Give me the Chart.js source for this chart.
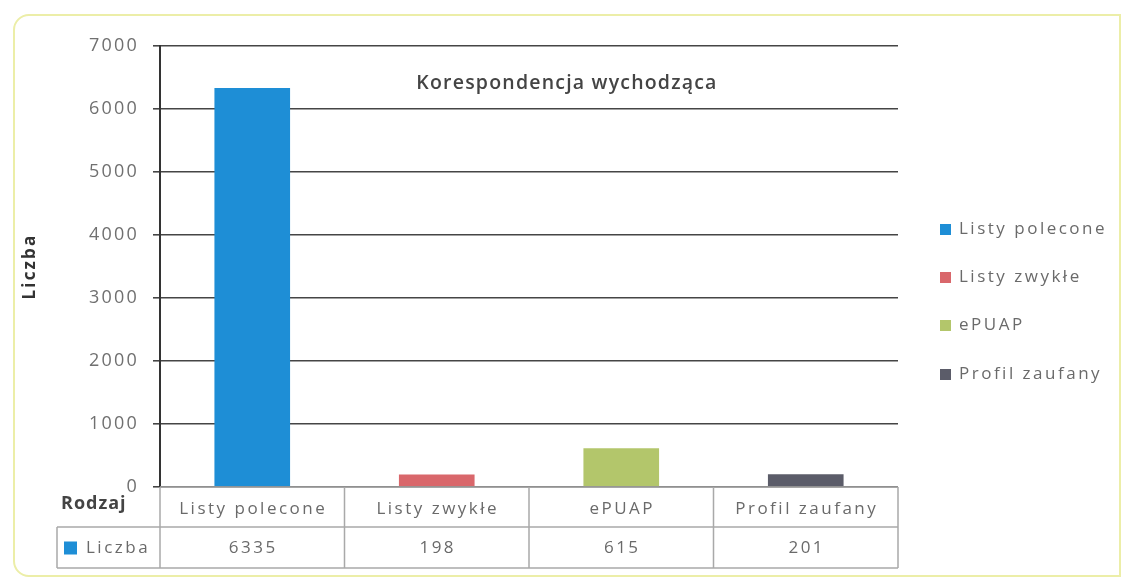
<!DOCTYPE html>
<html>
<head>
<meta charset="utf-8">
<script src="https://cdn.jsdelivr.net/npm/chart.js@4.4.1/dist/chart.umd.min.js"></script>
<style>
    html, body { margin: 0; padding: 0; background: #fff; }
    #frame {
        position: absolute; left: 13px; top: 14px; width: 1104px; height: 559px;
        border: 2px solid #eceea8; border-radius: 16px 0 0 16px;
    }
    #wrap { position: absolute; left: 0; top: 0; width: 1124px; height: 578px; }
</style>
</head>
<body>
<div id="frame"></div>
<div id="wrap"><canvas id="chart" width="1124" height="578"></canvas></div>
<script>
const kategorie = ['Listy polecone', 'Listy zwykłe', 'ePUAP', 'Profil zaufany'];
const liczba = [6335, 198, 615, 201];
const kolory = ['#1e8ed6', '#d9676b', '#b3c66b', '#5b5c69'];
const tytul = 'Korespondencja wychodząca';

const FONT = '"Open Sans", sans-serif';

// rozstrzelone litery jak na skanie
const odstepPlugin = {
    id: 'odstep',
    beforeDraw(chart) { chart.ctx.letterSpacing = '2.2px'; }
};

// tabela danych pod osia i legenda po prawej
const tabelaPlugin = {
    id: 'tabela',
    afterDraw(chart) {
        const c = chart.ctx;
        const x = chart.scales.x;
        const top = chart.chartArea.bottom;
        const row1 = top + 40, row2 = row1 + 41;
        const n = kategorie.length;
        const w = (x.right - x.left) / n;

        c.save();
        c.strokeStyle = '#a9a9a9';
        c.lineWidth = 1.5;
        c.beginPath();
        c.moveTo(x.left, top); c.lineTo(x.right, top);
        c.moveTo(57, row1); c.lineTo(x.right, row1);
        c.moveTo(57, row2); c.lineTo(x.right, row2);
        c.moveTo(57, row1); c.lineTo(57, row2);
        for (let i = 0; i <= n; i++) {
            const px = x.left + i * w;
            c.moveTo(px, top); c.lineTo(px, row2);
        }
        c.stroke();

        c.textAlign = 'center';
        c.textBaseline = 'middle';
        c.fillStyle = '#6a6a6a';
        c.font = '17px ' + FONT;
        c.letterSpacing = '2.5px';
        kategorie.forEach((k, i) => {
            const px = x.getPixelForValue(i) + 1;
            c.fillText(k, px, (top + row1) / 2 + 2);
            c.fillText(String(liczba[i]), px, (row1 + row2) / 2 + 1);
        });

        c.textAlign = 'left';
        c.fillStyle = '#444';
        c.font = 'bold 18px ' + FONT;
        c.letterSpacing = '1px';
        c.fillText('Rodzaj', 61, top + 17);

        c.fillStyle = kolory[0];
        c.fillRect(64, (row1 + row2) / 2 - 6, 13, 13);
        c.fillStyle = '#6a6a6a';
        c.font = '17px ' + FONT;
        c.letterSpacing = '2.5px';
        c.fillText('Liczba', 86, (row1 + row2) / 2 + 1);

        // legenda
        const ly = [229, 277, 325, 374];
        kategorie.forEach((k, i) => {
            c.fillStyle = kolory[i];
            c.fillRect(940, ly[i] - 5, 11, 11);
            c.fillStyle = '#6a6a6a';
            c.fillText(k, 959, ly[i]);
        });

        // tytul wykresu
        c.textAlign = 'center';
        c.fillStyle = '#444';
        c.font = '600 19.5px ' + FONT;
        c.letterSpacing = '1.2px';
        c.fillText(tytul, 567, 83);
        c.restore();
    }
};

new Chart(document.getElementById('chart'), {
    type: 'bar',
    data: {
        labels: kategorie,
        datasets: [{
            label: 'Liczba',
            data: liczba,
            backgroundColor: kolory,
            borderWidth: 0,
            categoryPercentage: 1,
            barPercentage: 0.41
        }]
    },
    options: {
        responsive: false,
        animation: false,
        layout: { padding: { top: 46, right: 226, bottom: 0, left: 0 } },
        plugins: {
            legend: { display: false },
            tooltip: { enabled: false }
        },
        scales: {
            x: {
                ticks: { display: false },
                grid: { display: false },
                border: { display: false },
                afterFit: s => { s.height = 91; }
            },
            y: {
                min: 0,
                max: 7000,
                ticks: {
                    stepSize: 1000,
                    color: '#707070',
                    padding: 14,
                    font: { family: FONT, size: 18 },
                    callback: v => String(v)
                },
                grid: { color: '#454545', lineWidth: 1.6, tickLength: 7 },
                border: { color: '#333', width: 2 },
                title: {
                    display: true,
                    text: 'Liczba',
                    color: '#333',
                    padding: { top: 20, bottom: 0 },
                    font: { family: FONT, size: 17, weight: 'bold' }
                },
                afterFit: s => { s.width = 160; }
            }
        }
    },
    plugins: [odstepPlugin, tabelaPlugin]
});
</script>
</body>
</html>
